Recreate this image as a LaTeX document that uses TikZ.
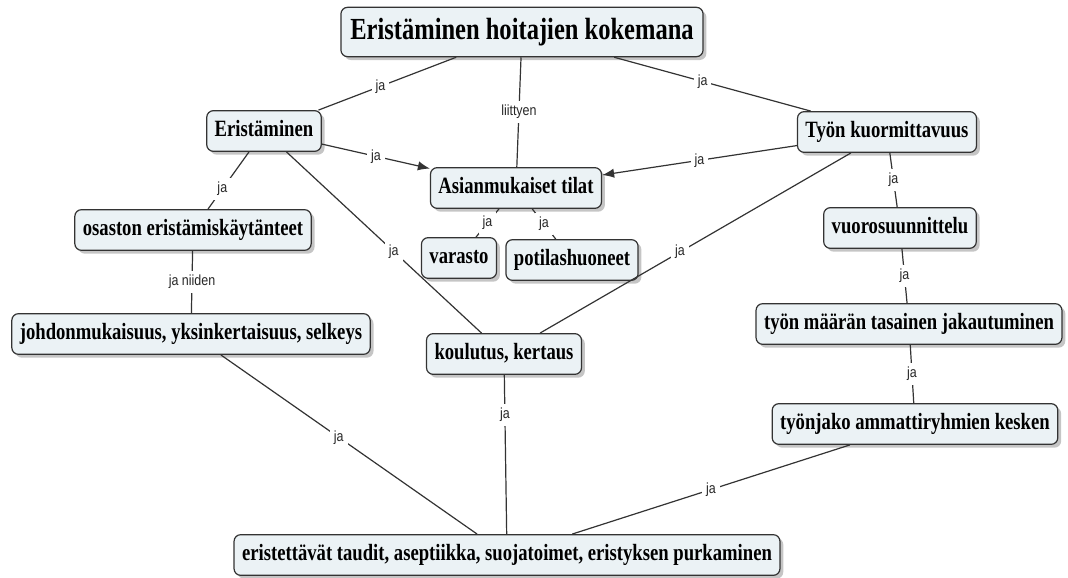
\documentclass[tikz,border=0pt]{standalone}
\usepackage{fontspec}
\usetikzlibrary{arrows.meta,shadows}
\newfontfamily\boxfont[FakeStretch=0.8]{Liberation Serif}
\newfontfamily\lblfont[FakeStretch=0.85]{Liberation Sans}
\definecolor{kfill}{HTML}{EBF2F5}
\definecolor{kline}{HTML}{333333}
\begin{document}
\begin{tikzpicture}[x=0.75pt,y=-0.75pt,
	kasite/.style={draw=kline,line width=0.9pt,fill=kfill,rounded corners=5pt,
		drop shadow={shadow xshift=2.5pt,shadow yshift=-2.5pt,fill=black!45,opacity=0.5},
		font=\boxfont\bfseries\fontsize{17.5}{21}\selectfont,
		inner xsep=6pt,inner ysep=7pt,text height=12.5pt,text depth=4pt},
	otsikko/.style={kasite,font=\boxfont\bfseries\fontsize{23}{27}\selectfont,
		inner xsep=7pt,inner ysep=8pt,text height=16pt,text depth=5pt},
	yhteys/.style={draw=kline,line width=0.9pt},
	sana/.style={fill=white,inner sep=3pt,text=black!85,font=\lblfont\fontsize{11}{13}\selectfont}]
	\useasboundingbox (0,0) rectangle (1068,578);
	\path (522,32) node[otsikko] (otsikko) {Eristäminen hoitajien kokemana}
		(264,131) node[kasite] (erist) {Eristäminen}
		(887,132) node[kasite] (kuorm) {Työn kuormittavuus}
		(516,188) node[kasite] (tilat) {Asianmukaiset tilat}
		(459,258) node[kasite] (varasto) {varasto}
		(572,260) node[kasite] (potil) {potilashuoneet}
		(193,230) node[kasite] (osasto) {osaston eristämiskäytänteet}
		(900,228) node[kasite] (vuoro) {vuorosuunnittelu}
		(191,334) node[kasite] (johdon) {johdonmukaisuus, yksinkertaisuus, selkeys}
		(504,354) node[kasite] (koulu) {koulutus, kertaus}
		(909,324) node[kasite] (maara) {työn määrän tasainen jakautuminen}
		(915,424) node[kasite] (tyonjako) {työnjako ammattiryhmien kesken}
		(507,555) node[kasite] (taudit) {eristettävät taudit, aseptiikka, suojatoimet, eristyksen purkaminen};
	\foreach \a/\b/\p/\t in {otsikko/erist/0.55/ja, otsikko/tilat/0.5/liittyen, otsikko/kuorm/0.45/ja,
		erist/osasto/0.65/ja, erist/koulu/0.55/ja, kuorm/koulu/0.55/ja,
		tilat/varasto/0.5/ja, tilat/potil/0.5/ja, osasto/johdon/0.5/ja niiden,
		kuorm/vuoro/0.5/ja, vuoro/maara/0.5/ja, maara/tyonjako/0.5/ja,
		johdon/taudit/0.46/ja, koulu/taudit/0.25/ja, tyonjako/taudit/0.5/ja}{
		\draw[yhteys] (\a) -- node[sana,pos=\p]{\t} (\b);
	}
	\foreach \a in {erist,kuorm}{
		\draw[yhteys,-{Latex[length=9pt,width=7pt]}] (\a) -- node[sana]{ja} (tilat);
	}
\end{tikzpicture}
\end{document}
